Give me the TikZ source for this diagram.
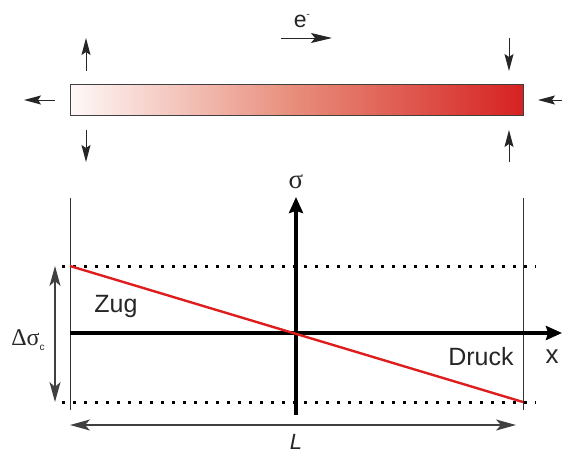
\documentclass[tikz,border=0pt]{standalone}
\usepackage{fontspec}
\setmainfont{Liberation Sans}
\newfontfamily\greekfont{Liberation Serif}
\usepackage{xcolor}
\usetikzlibrary{arrows.meta, positioning, calc}

\definecolor{barred}{RGB}{214,34,34}
\definecolor{barmid}{RGB}{232,140,122}
\definecolor{linered}{RGB}{222,30,30}

\begin{document}
\begin{tikzpicture}[x=1pt, y=-1pt,
    bar/.style={draw=black!75, line width=1pt, left color=barred!3,
      right color=barred, middle color=barmid, minimum width=453pt, minimum height=31pt, inner sep=0pt},
    force/.style={-{Stealth[length=17pt, width=9pt, inset=3pt]}, line width=1pt, draw=black!85},
    axis/.style={-{Stealth[length=16pt, width=14pt, inset=2pt]}, line width=3.2pt},
    bound/.style={line width=1pt, draw=black!80},
    level/.style={line width=3pt, dash pattern=on 3pt off 8pt},
    dim/.style={{Stealth[length=20pt, width=11pt, inset=5pt]}-{Stealth[length=20pt, width=11pt, inset=5pt]},
      line width=1.5pt, draw=black!75},
    lbl/.style={font=\fontsize{25}{27}\selectfont, inner sep=0pt, text=black!85}
  ]
  \useasboundingbox (0,0) rectangle (562,453);

  % bar with forces
  \node[bar] (bar) at (296.5,99.5) {};
  \coordinate (luA) at (86,71);  \coordinate (luB) at (86,38);
  \coordinate (ldA) at (86,130); \coordinate (ldB) at (86,162);
  \coordinate (rdA) at (509,38); \coordinate (rdB) at (509,71);
  \coordinate (ruA) at (509,162); \coordinate (ruB) at (509,130);
  \coordinate (lhA) at (55,100); \coordinate (lhB) at (24,100);
  \coordinate (rhA) at (562,100); \coordinate (rhB) at (538,100);
  \draw[force] (luA) -- (luB);
  \draw[force] (ldA) -- (ldB);
  \draw[force] (rdA) -- (rdB);
  \draw[force] (ruA) -- (ruB);
  \draw[force] (lhA) -- (lhB);
  \draw[force] (rhA) -- (rhB);

  % electron flow
  \coordinate (eA) at (281,38); \coordinate (eB) at (332,38);
  \draw[force, -{Stealth[length=21pt, width=10pt, inset=4pt]}] (eA) -- (eB);
  \node[lbl, font=\fontsize{23}{25}\selectfont] (elec) at (302,21) {e\raisebox{10pt}{\fontsize{10}{10}\selectfont -}};

  % stress diagram
  \coordinate (bl1) at (70,198);  \coordinate (bl2) at (70,410);
  \coordinate (br1) at (523,198); \coordinate (br2) at (523,410);
  \draw[bound] (bl1) -- (bl2);
  \draw[bound] (br1) -- (br2);

  \coordinate (dt1) at (62,266);  \coordinate (dt2) at (536,266);
  \coordinate (db1) at (62,402);  \coordinate (db2) at (536,402);
  \draw[level] (dt1) -- (dt2);
  \draw[level] (db1) -- (db2);

  \coordinate (xa) at (70,333);  \coordinate (xb) at (562,333);
  \coordinate (sa) at (296,415); \coordinate (sb) at (296,197);
  \draw[axis] (xa) -- (xb);
  \draw[axis] (sa) -- (sb);
  \node[lbl, font=\fontsize{27}{27}\selectfont\greekfont] (sig) at (296,182) {σ};
  \node[lbl, font=\fontsize{26}{26}\selectfont] (xlab) at (552,357) {x};

  \coordinate (zt) at (70,266); \coordinate (zb) at (523,402);
  \draw[linered, line width=2.4pt] (zt) -- (zb);
  \node[lbl] (zug) at (116,306) {Zug};
  \node[lbl] (druck) at (481,357) {Druck};

  % dimensions
  \coordinate (da) at (55,266); \coordinate (dbb) at (55,402);
  \draw[dim] (da) -- (dbb);
  \node[lbl, font=\fontsize{24}{24}\selectfont\greekfont] (dsig) at (28,340)
    {Δσ\raisebox{-5pt}{\fontsize{10}{10}\selectfont\rmfamily c}};
  \coordinate (la) at (70,425); \coordinate (lb) at (516,425);
  \draw[dim] (la) -- (lb);
  \node[lbl, font=\fontsize{22}{22}\selectfont\itshape] (llab) at (296,442) {L};
\end{tikzpicture}
\end{document}
